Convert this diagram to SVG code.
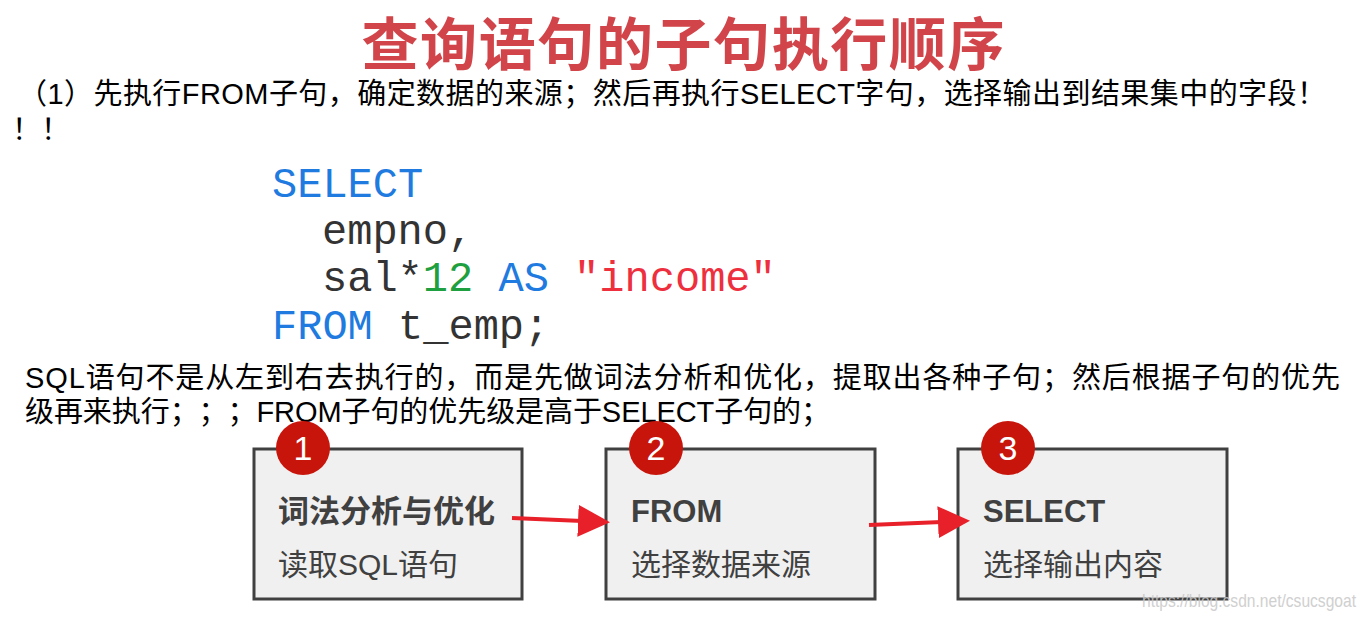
<svg xmlns="http://www.w3.org/2000/svg" width="1368" height="617" viewBox="0 0 1368 617">
<defs>
<style>
.cjk{font-family:"Liberation Sans","Noto Sans CJK SC",sans-serif;text-spacing-trim:space-all;}
.title{font-size:57px;font-weight:bold;fill:#d1454a;}
.para{font-size:29px;fill:#000;}
.code{font-family:"Liberation Mono","DejaVu Sans Mono",monospace;font-size:42px;}
.kw{fill:#1f7be0;} .tx{fill:#333;} .num{fill:#1fa040;} .str{fill:#ee2f3e;}
.box{fill:#f0f0f0;stroke:#404040;stroke-width:3;}
.badge{fill:#c8150c;}
.badgeNum{font-family:"Liberation Sans","Noto Sans",sans-serif;font-size:34px;fill:#fff;text-anchor:middle;}
.bt{font-size:31px;font-weight:bold;fill:#404040;}
.bs{font-size:30px;fill:#404040;}
.conn{stroke:#e8202a;stroke-width:4;fill:none;marker-end:url(#ah);}
.wm{font-family:"Liberation Sans",sans-serif;font-size:19px;fill:#c8c8c8;opacity:0.85;}
</style>
<marker id="ah" markerWidth="8" markerHeight="8" refX="7" refY="4" orient="auto" markerUnits="strokeWidth">
<path d="M0,0 L8,4 L0,8 z" fill="#e8202a"/>
</marker>
</defs>
<rect width="1368" height="617" fill="#fff"/>
<text class="cjk title" x="683" y="65" text-anchor="middle" textLength="643">查询语句的子句执行顺序</text>
<text class="cjk para" x="18" y="104" textLength="1308" lengthAdjust="spacing">（1）先执行FROM子句，确定数据的来源；然后再执行SELECT字句，选择输出到结果集中的字段！</text>
<text class="cjk para" x="12" y="140">！！</text>
<g class="code">
<text x="272" y="197"><tspan class="kw">SELECT</tspan></text>
<text x="322" y="244"><tspan class="tx">empno,</tspan></text>
<text x="322" y="291"><tspan class="tx">sal*</tspan><tspan class="num">12</tspan><tspan class="tx"> </tspan><tspan class="kw">AS</tspan><tspan class="tx"> </tspan><tspan class="str">"income"</tspan></text>
<text x="272" y="339"><tspan class="kw">FROM</tspan><tspan class="tx"> t_emp;</tspan></text>
</g>
<text class="cjk para" x="25" y="388" textLength="1315" lengthAdjust="spacing">SQL语句不是从左到右去执行的，而是先做词法分析和优化，提取出各种子句；然后根据子句的优先</text>
<text class="cjk para" x="25" y="422" textLength="805" lengthAdjust="spacing">级再来执行；；；FROM子句的优先级是高于SELECT子句的；</text>
<g id="node1">
<rect class="box" x="254" y="449" width="268" height="150"/>
<circle class="badge" cx="303" cy="448" r="27"/>
<text class="badgeNum" x="303" y="460">1</text>
<text class="cjk bt" x="278" y="522">词法分析与优化</text>
<text class="cjk bs" x="278" y="575">读取SQL语句</text>
</g>
<g id="node2">
<rect class="box" x="606" y="449" width="269" height="150"/>
<circle class="badge" cx="656" cy="448" r="27"/>
<text class="badgeNum" x="656" y="460">2</text>
<text class="cjk bt" x="631" y="522">FROM</text>
<text class="cjk bs" x="631" y="575">选择数据来源</text>
</g>
<g id="node3">
<rect class="box" x="958" y="449" width="269" height="150"/>
<circle class="badge" cx="1008" cy="448" r="27"/>
<text class="badgeNum" x="1008" y="460">3</text>
<text class="cjk bt" x="983" y="522">SELECT</text>
<text class="cjk bs" x="983" y="575">选择输出内容</text>
</g>
<g id="connectors">
<line class="conn" x1="512" y1="518" x2="606" y2="522"/>
<line class="conn" x1="869" y1="525" x2="966" y2="521"/>
</g>
<text class="wm" x="1142" y="607" textLength="214" lengthAdjust="spacingAndGlyphs">https://blog.csdn.net/csucsgoat</text>
</svg>
